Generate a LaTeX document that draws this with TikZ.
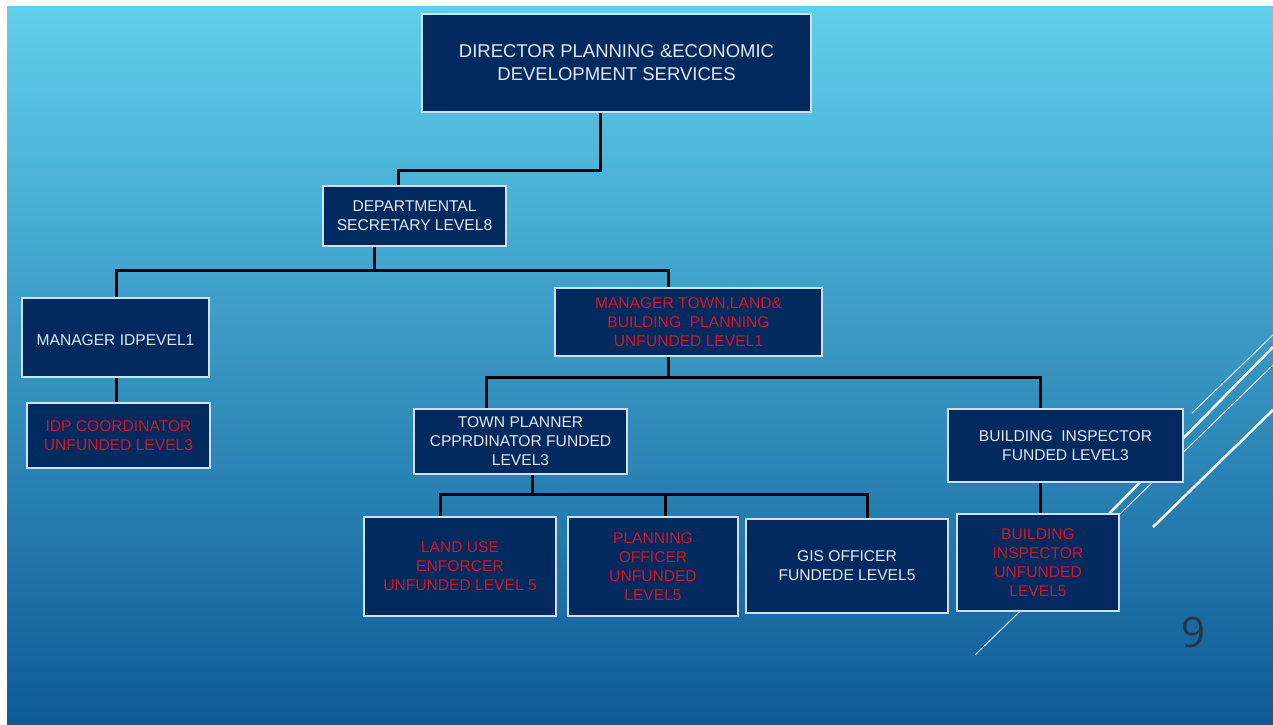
\documentclass[tikz,border=0pt]{standalone}
\usepackage{fontspec}
\setmainfont{Liberation Sans}
\newfontfamily\numfont{Open Sans}
\definecolor{navy}{RGB}{2,42,94}
\definecolor{txtw}{RGB}{228,232,238}
\definecolor{txtr}{RGB}{208,24,42}
\definecolor{bgtop}{RGB}{96,207,236}
\definecolor{bgmid}{RGB}{52,158,205}
\definecolor{bgbot}{RGB}{14,90,150}
\definecolor{edge}{RGB}{205,225,238}
\definecolor{numc}{RGB}{38,52,72}
\begin{document}
\begin{tikzpicture}[x=1pt,y=-1pt,
  box/.style={draw=edge, line width=2pt, fill=navy, rectangle, align=center, inner sep=2pt,
              execute at begin node={\rule{0pt}{17pt}},
              font=\fontsize{15.6}{19}\selectfont, text=txtw},
  redbox/.style={box, text=txtr},
  conn/.style={draw=black, line width=3pt},
  dthin/.style={draw=white, line width=1pt, opacity=0.85},
  dthick/.style={draw=white, line width=2.6pt, opacity=0.95}]
\useasboundingbox (0,0) rectangle (1273,724);
\fill[white] (0,0) rectangle (1273,724);
\shade[top color=bgtop, middle color=bgmid, bottom color=bgbot] (7,6) rectangle (1273,724);

% decorative diagonal lines
\draw[dthin]  (1192,413) -- (1273,335);
\draw[dthick] (1100,523) -- (1273,347);
\draw[dthin]  (975,655) -- (1273,365);
\draw[dthick] (1153,527) -- (1273,410);

% boxes
\node[box, minimum width=389pt, minimum height=98pt, font=\fontsize{18.5}{23}\selectfont,
      execute at begin node={\rule{0pt}{17pt}}] (dir) at (616.5,63)
  {DIRECTOR PLANNING \&ECONOMIC\\DEVELOPMENT SERVICES};
\node[box, minimum width=183pt, minimum height=60pt] (sec) at (414.5,216)
  {DEPARTMENTAL\\SECRETARY LEVEL8};
\node[box, minimum width=187pt, minimum height=79pt] (mgridp) at (115.5,337.5)
  {MANAGER IDPEVEL1};
\node[redbox, minimum width=183pt, minimum height=65pt] (idpc) at (118.5,435.5)
  {IDP COORDINATOR\\UNFUNDED LEVEL3};
\node[redbox, minimum width=267pt, minimum height=68pt] (mgrtown) at (688.5,322)
  {MANAGER TOWN,LAND\&\\BUILDING~ PLANNING\\UNFUNDED LEVEL1};
\node[box, minimum width=213pt, minimum height=65pt] (tp) at (520.5,441.5)
  {TOWN PLANNER\\CPPRDINATOR FUNDED\\LEVEL3};
\node[box, minimum width=235pt, minimum height=73pt] (bif) at (1065.5,445.5)
  {BUILDING~ INSPECTOR\\FUNDED LEVEL3};
\node[redbox, minimum width=192pt, minimum height=99pt] (lu) at (460,566.5)
  {LAND USE\\ENFORCER\\UNFUNDED LEVEL 5};
\node[redbox, minimum width=170pt, minimum height=99pt] (po) at (653,566.5)
  {PLANNING\\OFFICER\\UNFUNDED\\LEVEL5};
\node[box, minimum width=202pt, minimum height=94pt] (gis) at (847,566)
  {GIS OFFICER\\FUNDEDE LEVEL5};
\node[redbox, minimum width=162pt, minimum height=97pt] (biu) at (1038,562.5)
  {BUILDING\\INSPECTOR\\UNFUNDED\\LEVEL5};

\node[font=\numfont\fontsize{42}{42}\selectfont, text=numc, inner sep=0pt] (pg) at (1193,632) {9};

% connectors
\coordinate (b1) at (600,170);
\coordinate (b2) at (398,170);
\draw[conn] (dir.south -| b1) -- (b1) -- (b2) -- (sec.north -| b2);
\coordinate (b3) at (374,270);
\coordinate (b4) at (116,270);
\coordinate (b5) at (668,270);
\draw[conn] (sec.south -| b3) -- (b3);
\draw[conn] (mgridp.north -| b4) -- (b4) -- (b5) -- (mgrtown.north -| b5);
\draw[conn] (mgridp.south -| b4) -- (idpc.north -| b4);
\coordinate (b6) at (668,377);
\coordinate (b7) at (486,377);
\coordinate (b8) at (1040,377);
\draw[conn] (mgrtown.south -| b6) -- (b6);
\draw[conn] (tp.north -| b7) -- (b7) -- (b8) -- (bif.north -| b8);
\draw[conn] (bif.south -| b8) -- (biu.north -| b8);
\coordinate (b9) at (532,494);
\coordinate (b10) at (440,494);
\coordinate (b11) at (665,494);
\coordinate (b12) at (867,494);
\draw[conn] (tp.south -| b9) -- (b9);
\draw[conn] (lu.north -| b10) -- (b10) -- (b12) -- (gis.north -| b12);
\draw[conn] (po.north -| b11) -- (b11);
\end{tikzpicture}
\end{document}
